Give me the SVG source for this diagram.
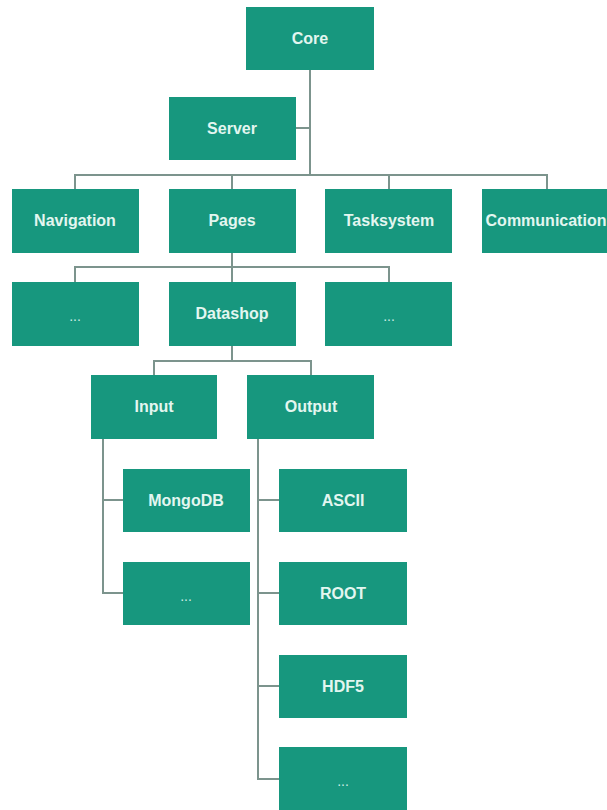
<svg xmlns="http://www.w3.org/2000/svg" width="607" height="810" viewBox="0 0 607 810">
  <style>
    .box { fill: #17977e; }
    .lbl { font-family: "Liberation Sans", Arial, sans-serif; font-size: 16px; font-weight: bold; fill: #e3f6f0; text-anchor: middle; }
    .dots { font-family: "Liberation Sans", Arial, sans-serif; font-size: 14px; fill: #cfeee5; text-anchor: middle; }
    .edge { fill: none; stroke: #7c948d; stroke-width: 2; }
  </style>
  <rect width="607" height="810" fill="#ffffff"/>

  <!-- connectors -->
  <g id="connectors">
    <path class="edge" d="M310 70 V175 M296 128 H310"/>
    <path class="edge" d="M75 189 V175 H547 V189 M232 175 V189 M389 175 V189"/>
    <path class="edge" d="M232 253 V282 M75 282 V267 H389 V282"/>
    <path class="edge" d="M232 346 V361 M154 375 V361 H311 V375"/>
    <path class="edge" d="M103 439 V593 H123 M103 500 H123"/>
    <path class="edge" d="M258 439 V779 H279 M258 500 H279 M258 593 H279 M258 686 H279"/>
  </g>

  <g id="core"><rect class="box" x="246" y="7" width="128" height="63"/><text class="lbl" x="310" y="44">Core</text></g>
  <g id="server"><rect class="box" x="169" y="97" width="127" height="63"/><text class="lbl" x="232" y="134">Server</text></g>

  <g id="navigation"><rect class="box" x="12" y="189" width="127" height="64"/><text class="lbl" x="75" y="226">Navigation</text></g>
  <g id="pages"><rect class="box" x="169" y="189" width="127" height="64"/><text class="lbl" x="232" y="226">Pages</text></g>
  <g id="tasksystem"><rect class="box" x="325" y="189" width="127" height="64"/><text class="lbl" x="389" y="226">Tasksystem</text></g>
  <g id="communication"><rect class="box" x="482" y="189" width="128" height="64"/><text class="lbl" x="546" y="226">Communication</text></g>

  <g id="pages-more-left"><rect class="box" x="12" y="282" width="127" height="64"/><text class="dots" x="75" y="321">...</text></g>
  <g id="datashop"><rect class="box" x="169" y="282" width="127" height="64"/><text class="lbl" x="232" y="319">Datashop</text></g>
  <g id="pages-more-right"><rect class="box" x="325" y="282" width="127" height="64"/><text class="dots" x="389" y="321">...</text></g>

  <g id="input"><rect class="box" x="91" y="375" width="126" height="64"/><text class="lbl" x="154" y="412">Input</text></g>
  <g id="output"><rect class="box" x="247" y="375" width="127" height="64"/><text class="lbl" x="311" y="412">Output</text></g>

  <g id="mongodb"><rect class="box" x="123" y="469" width="127" height="63"/><text class="lbl" x="186" y="506">MongoDB</text></g>
  <g id="input-more"><rect class="box" x="123" y="562" width="127" height="63"/><text class="dots" x="186" y="601">...</text></g>

  <g id="ascii"><rect class="box" x="279" y="469" width="128" height="63"/><text class="lbl" x="343" y="506">ASCII</text></g>
  <g id="root"><rect class="box" x="279" y="562" width="128" height="63"/><text class="lbl" x="343" y="599">ROOT</text></g>
  <g id="hdf5"><rect class="box" x="279" y="655" width="128" height="63"/><text class="lbl" x="343" y="692">HDF5</text></g>
  <g id="output-more"><rect class="box" x="279" y="747" width="128" height="64"/><text class="dots" x="343" y="786">...</text></g>
</svg>
